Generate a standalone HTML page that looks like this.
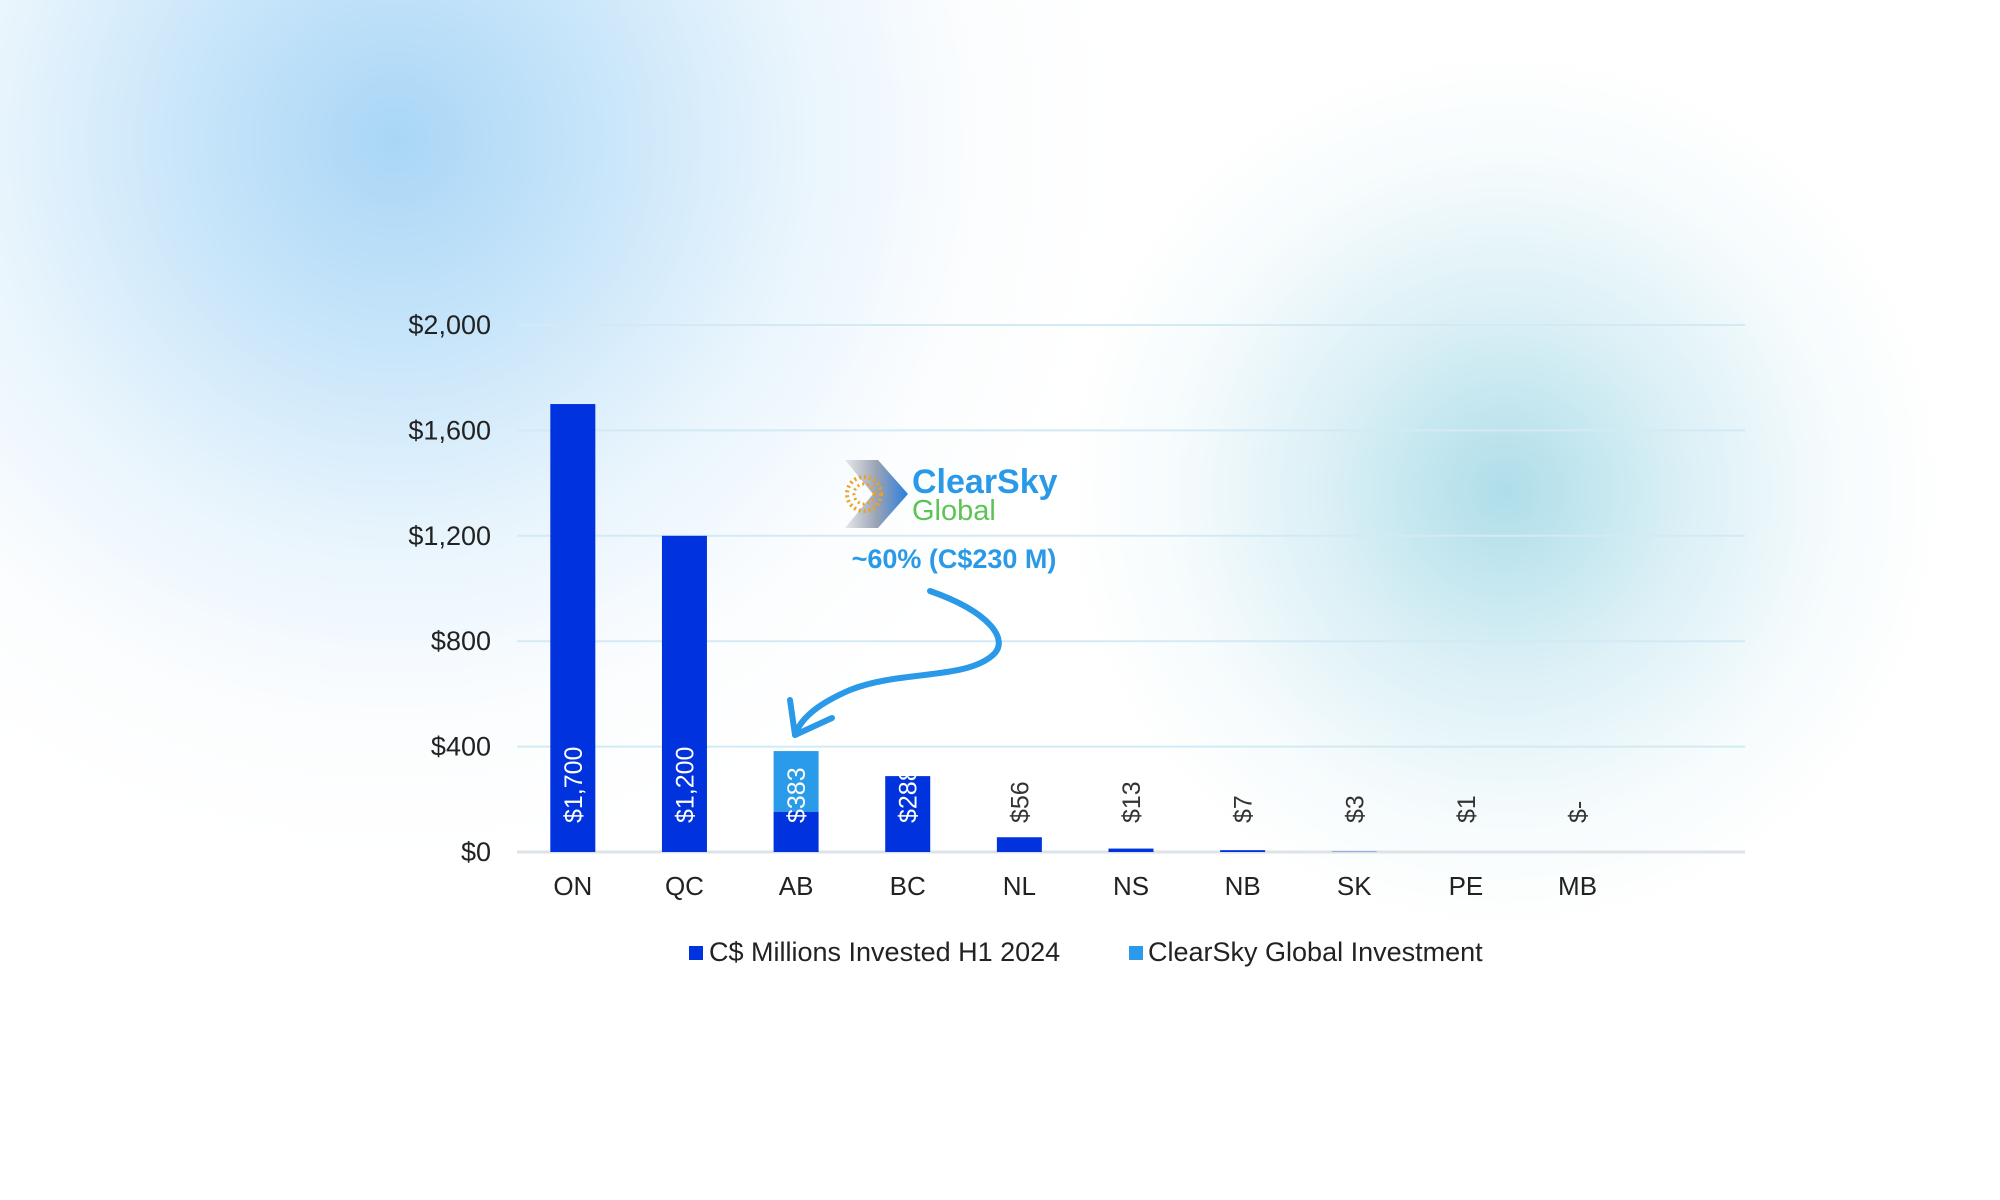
<!DOCTYPE html>
<html><head><meta charset="utf-8"><style>
html,body{margin:0;padding:0;width:2000px;height:1200px;overflow:hidden;background:#fff}
#bg{position:absolute;left:0;top:0;width:2000px;height:1200px;
background:radial-gradient(circle at 395px 140px, rgba(165,212,246,0.95) 0px, rgba(180,220,248,0.75) 200px, rgba(210,234,250,0.5) 400px, rgba(235,245,252,0.22) 580px, rgba(255,255,255,0) 720px),
radial-gradient(circle at 1505px 491px, rgba(170,220,232,0.95) 0px, rgba(195,230,240,0.6) 180px, rgba(225,243,248,0.3) 330px, rgba(255,255,255,0) 440px);}
svg{position:absolute;left:0;top:0}
text{font-family:"Liberation Sans",sans-serif}
</style></head><body>
<div id="bg"></div>
<svg id="chart" width="2000" height="1200">
<g id="grid"></g>
<g id="bars"></g>
<g id="labels"></g>
<g>
<defs><linearGradient id="lg" x1="0" x2="1"><stop offset="0" stop-color="#e8e8ea"/><stop offset="0.5" stop-color="#9aa3b5"/><stop offset="1" stop-color="#2a7fe0"/></linearGradient></defs>
<path d="M845,460 L878,460 L908,494 L878,528 L845,528 L873,494 Z" fill="url(#lg)"/>
<circle cx="864" cy="494" r="17" fill="none" stroke="#f0a020" stroke-width="4" stroke-dasharray="2 3"/>
<circle cx="864" cy="494" r="10" fill="none" stroke="#f0a020" stroke-width="3" stroke-dasharray="2 3"/>
<text x="912" y="493" font-size="34" font-weight="bold" fill="#2a9ae8">ClearSky</text>
<text x="912" y="520" font-size="29" fill="#5cc454">Global</text>
</g>
<text x="954" y="568" font-size="27" font-weight="bold" fill="#2a9ae8" text-anchor="middle">~60% (C$230 M)</text>
<path d="M930,591 C990,612 1010,640 993,655 C965,680 900,670 850,690 C815,705 800,720 795,735" fill="none" stroke="#2a9ae8" stroke-width="6" stroke-linecap="round"/>
<path d="M790,700 L795,735 L832,718" fill="none" stroke="#2a9ae8" stroke-width="6" stroke-linecap="round" stroke-linejoin="round"/>
<g>
<rect x="689" y="946" width="14" height="14" fill="#0033dd"/>
<text x="709" y="961" font-size="27" fill="#222">C$ Millions Invested H1 2024</text>
<rect x="1129" y="946" width="14" height="14" fill="#2a9be8"/>
<text x="1148" y="961" font-size="27" fill="#222">ClearSky Global Investment</text>
</g>
</svg>
<script>
const categories=["ON","QC","AB","BC","NL","NS","NB","SK","PE","MB"];
const totals=[1700,1200,383,288,56,13,7,3,1,0];
const clearsky=[0,0,230,0,0,0,0,0,0,0];
const valueLabels=["$1,700","$1,200","$383","$288","$56","$13","$7","$3","$1","$-"];
const yTicks=[0,400,800,1200,1600,2000];
const yTickLabels=["$0","$400","$800","$1,200","$1,600","$2,000"];
const NS="http://www.w3.org/2000/svg";
const x0=517,x1=1745,y0=852,y1=325,nBands=11;
const band=(x1-x0)/nBands;
function xc(i){return x0+band*(i+0.5);}
function y(v){return y0-(v/2000)*(y0-y1);}
function mk(t,a,p){const e=document.createElementNS(NS,t);for(const k in a)e.setAttribute(k,a[k]);p.appendChild(e);return e;}
const grid=document.getElementById('grid'),bars=document.getElementById('bars'),labels=document.getElementById('labels');
yTicks.forEach((v,i)=>{
 const l=mk('line',{x1:x0,x2:x1,y1:y(v),y2:y(v),stroke:v===0?'#dde3e8':'#d3eaf4','stroke-width':v===0?3:2},grid);
 
 
 const t=mk('text',{x:491,y:y(v)+9,'font-size':27,fill:'#222','text-anchor':'end'},labels);
 t.textContent=yTickLabels[i];
 
 
});
const bw=45;
categories.forEach((c,i)=>{
 const cx=xc(i);
 const base=totals[i]-clearsky[i];
 if(base>2){
  const r=mk('rect',{x:cx-bw/2,y:y(base),width:bw,height:y(0)-y(base),fill:base>5?'#0033dd':'#7f9df0'},bars);
  
  
 }
 if(clearsky[i]>0){
  const r2=mk('rect',{x:cx-bw/2,y:y(totals[i]),width:bw,height:y(base)-y(totals[i]),fill:'#2a9be8'},bars);
  
  
 }
 const t=mk('text',{x:0,y:0,'font-size':25,fill:totals[i]>=200?'#fff':'#333',transform:`translate(${cx+9},823) rotate(-90)`},labels);
 t.textContent=valueLabels[i];
 
 
 const ct=mk('text',{x:cx,y:895,'font-size':26,fill:'#222','text-anchor':'middle'},labels);
 ct.textContent=c;
 
 
});
</script>
</body></html>
